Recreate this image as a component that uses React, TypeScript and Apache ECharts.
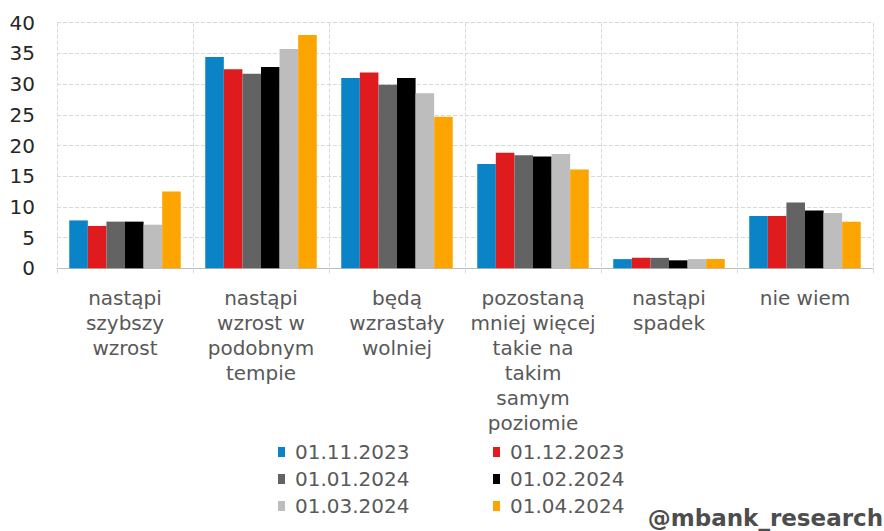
import React, { useEffect, useRef } from "react";
import * as echarts from "echarts";

const categories = [
  "nastąpi\nszybszy\nwzrost",
  "nastąpi\nwzrost w\npodobnym\ntempie",
  "będą\nwzrastały\nwolniej",
  "pozostaną\nmniej więcej\ntakie na\ntakim\nsamym\npoziomie",
  "nastąpi\nspadek",
  "nie wiem",
];

const seriesNames = ["01.11.2023", "01.12.2023", "01.01.2024", "01.02.2024", "01.03.2024", "01.04.2024"];
const seriesColors = ["#0a84c6", "#e01b1e", "#636363", "#000000", "#bdbdbd", "#fca500"];

const nov2023 = [7.8, 34.4, 31.0, 17.0, 1.5, 8.5];
const dec2023 = [6.9, 32.4, 31.9, 18.8, 1.7, 8.5];
const jan2024 = [7.6, 31.7, 29.9, 18.4, 1.7, 10.7];
const feb2024 = [7.6, 32.8, 31.0, 18.2, 1.3, 9.4];
const mar2024 = [7.1, 35.7, 28.5, 18.6, 1.5, 9.0];
const apr2024 = [12.5, 38.0, 24.7, 16.1, 1.5, 7.6];

const seriesValues = [nov2023, dec2023, jan2024, feb2024, mar2024, apr2024];

const yTicks = { min: 0, max: 40, interval: 5 };

export default function App() {
  const ref = useRef<HTMLDivElement>(null);
  useEffect(() => {
    if (!ref.current) return;
    const chart = echarts.init(ref.current, null, { renderer: "svg" });
    const legendBase = {
      orient: "vertical",
      padding: 0,
      itemGap: 7,
      itemWidth: 7,
      itemHeight: 10,
      icon: "rect",
      textStyle: {
        fontFamily: "DejaVu Sans",
        fontSize: 20,
        color: "#595959",
        padding: [0, 0, 0, 5],
      },
    };
    chart.setOption({
      animation: false,
      backgroundColor: "#ffffff",
      grid: { left: 57, right: 11, top: 22.7, bottom: 262.7, containLabel: false },
      legend: [
        { ...legendBase, left: 278, top: 442, data: [seriesNames[0], seriesNames[2], seriesNames[4]] },
        { ...legendBase, left: 493, top: 442, data: [seriesNames[1], seriesNames[3], seriesNames[5]] },
      ],
      xAxis: {
        type: "category",
        data: categories,
        axisLine: { show: true, lineStyle: { color: "#bfbfbf", width: 1 } },
        axisTick: { show: true, length: 5, lineStyle: { color: "#d9d9d9" } },
        splitLine: { show: true, lineStyle: { color: "#d9d9d9", type: "dashed", width: 1 } },
        axisLabel: {
          interval: 0,
          margin: 17,
          fontFamily: "DejaVu Sans",
          fontSize: 20,
          lineHeight: 25,
          color: "#595959",
          align: "center",
        },
      },
      yAxis: {
        type: "value",
        min: yTicks.min,
        max: yTicks.max,
        interval: yTicks.interval,
        axisLine: { show: false },
        axisTick: { show: false },
        splitLine: { show: true, lineStyle: { color: "#d9d9d9", type: "dashed", width: 1 } },
        axisLabel: {
          margin: 22,
          fontFamily: "DejaVu Sans",
          fontSize: 20,
          color: "#262626",
        },
      },
      series: seriesNames.map((name, i) => ({
        name,
        type: "bar",
        data: seriesValues[i],
        barGap: "0%",
        barCategoryGap: "18%",
        itemStyle: { color: seriesColors[i] },
      })),
      graphic: [
        {
          type: "text",
          right: 1,
          top: 506,
          style: {
            text: "@mbank_research",
            fontFamily: "DejaVu Sans",
            fontWeight: "bold",
            fontSize: 23,
            fill: "#4d4d4d",
          },
        },
      ],
    });
    return () => chart.dispose();
  }, []);
  return <div ref={ref} style={{ width: 884, height: 531, position: "absolute", left: 0, top: 0 }} />;
}
